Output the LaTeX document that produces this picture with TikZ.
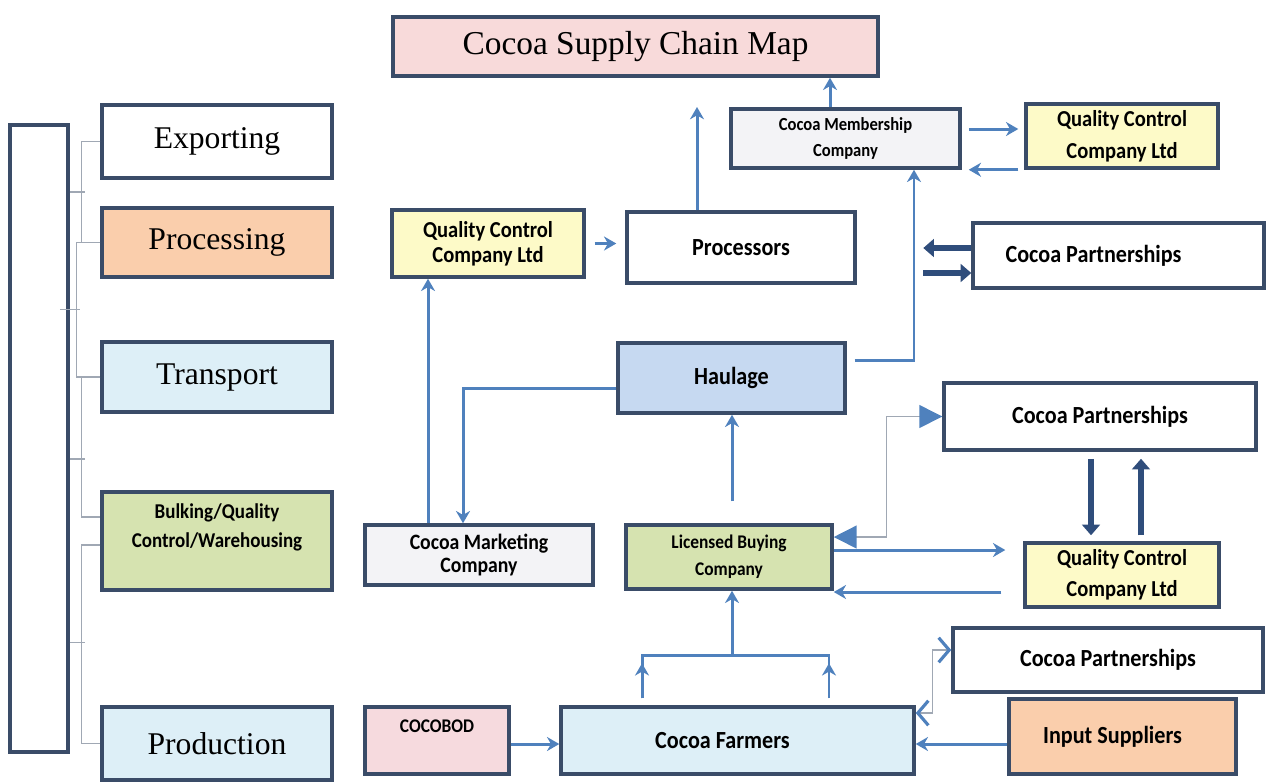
\documentclass[tikz,border=0pt]{standalone}
\usepackage{fontspec}
\setmainfont{Liberation Serif}
\newfontfamily\lblfont{Carlito}[FakeStretch=0.9]
\usetikzlibrary{arrows.meta,calc}

\definecolor{boxline}{RGB}{58,76,104}
\definecolor{arrowblue}{RGB}{79,129,189}
\definecolor{heavyblue}{RGB}{47,77,123}
\definecolor{treegray}{RGB}{160,168,180}
\definecolor{titlepink}{RGB}{248,218,218}
\definecolor{peach}{RGB}{250,206,172}
\definecolor{paleblue}{RGB}{221,239,247}
\definecolor{palegreen}{RGB}{214,227,176}
\definecolor{paleyellow}{RGB}{253,250,200}
\definecolor{haulblue}{RGB}{198,217,241}
\definecolor{palegray}{RGB}{243,243,246}
\definecolor{cocopink}{RGB}{246,218,222}

\tikzset{
  box/.style={draw=boxline,line width=2pt,inner sep=0pt,align=center},
  serif/.style={font=\fontsize{18}{21}\selectfont},
  lbl/.style={font=\lblfont\bfseries\fontsize{14}{16}\selectfont},
  flow/.style={draw=arrowblue,line width=1.7pt,-{Stealth[length=7pt,width=8pt]}},
  link/.style={draw=arrowblue,line width=1.7pt},
  heavy/.style={draw=heavyblue,line width=3.4pt,-{Triangle[length=6pt,width=10pt]}},
  tree/.style={draw=treegray,line width=0.7pt},
  graylink/.style={draw=treegray,line width=0.8pt,
    {Triangle[length=13pt,width=13pt,color=arrowblue]}-{Triangle[length=13pt,width=13pt,color=arrowblue]}},
  chevlink/.style={draw=treegray,line width=0.8pt,
    {Straight Barb[length=6pt,width=14pt,color=arrowblue,line width=1.8pt]}-{Straight Barb[length=6pt,width=14pt,color=arrowblue,line width=1.8pt]}}
}

\begin{document}
\begin{tikzpicture}[x=0.02cm,y=-0.02cm]
  \useasboundingbox (0,0) rectangle (1266,782);

  % left column
  \node[box,minimum width=1.16cm,minimum height=12.54cm] (frame) at (39,438.5) {};
  \node[box,serif,minimum width=4.6cm,minimum height=1.46cm] (exp) at (217,141.5) {Exporting};
  \node[box,serif,fill=peach,minimum width=4.6cm,minimum height=1.38cm] (proc) at (217,242.5) {Processing};
  \node[box,serif,fill=paleblue,minimum width=4.6cm,minimum height=1.4cm] (trans) at (217,377) {Transport};
  \node[box,lbl,font=\lblfont\bfseries\fontsize{12}{16.5}\selectfont,fill=palegreen,minimum width=4.6cm,minimum height=1.96cm] (bulk) at (217,541) {Bulking/Quality\\Control/Warehousing\\[0.02cm]};
  \node[box,serif,fill=paleblue,minimum width=4.6cm,minimum height=1.46cm] (prod) at (217,743.5) {Production};

  \coordinate (jA) at ($(exp.west)!0.5!(proc.west)$);
  \coordinate (jB) at ($(proc.west)!0.5!(trans.west)$);
  \coordinate (jC) at ($(trans.west)!0.5!(bulk.west)$);
  \coordinate (jD) at ($(bulk.west)!0.5!(prod.west)$);
  \draw[tree] (exp.west) -- ++(-19,0) |- (proc.west);
  \draw[tree] (proc.west) -- ++(-24,0) |- (trans.west);
  \draw[tree] (trans.west) -- ++(-19,0) |- ([yshift=0.48cm]bulk.west);
  \draw[tree] ([yshift=-0.08cm]bulk.west) -- ++(-19,0) |- (prod.west);
  \draw[tree] (frame.east |- jA) -- ++(15,0);
  \draw[tree] ([xshift=-0.2cm]frame.east |- jB) -- ++(20,0);
  \draw[tree] (frame.east |- jC) -- ++(15,0);
  \draw[tree] (frame.east |- jD) -- ++(15,0);

  % top
  \node[box,fill=titlepink,minimum width=9.7cm,minimum height=1.18cm,font=\fontsize{19}{22}\selectfont] (title) at (635.5,46.5) {Cocoa Supply Chain Map};
  \node[box,fill=palegray,minimum width=4.58cm,minimum height=1.18cm,font=\lblfont\bfseries\fontsize{10.5}{14.5}\selectfont] (memb) at (845.5,138.5) {Cocoa Membership\\Company};
  \node[box,fill=paleyellow,minimum width=3.84cm,minimum height=1.28cm,font=\lblfont\bfseries\fontsize{13}{18}\selectfont] (qcB) at (1122,136) {Quality Control\\Company Ltd};
  \node[box,fill=paleyellow,minimum width=3.84cm,minimum height=1.34cm,font=\lblfont\bfseries\fontsize{13}{14}\selectfont] (qcA) at (488,243.5) {Quality Control\\Company Ltd};
  \node[box,lbl,minimum width=4.56cm,minimum height=1.42cm] (procs) at (741,247.5) {Processors};
  \node[box,lbl,minimum width=5.82cm,minimum height=1.3cm] (partA) at (1118.5,255.5) {Cocoa Partnerships\hspace*{1cm}};
  \coordinate (procsup) at (697,107);

  % middle
  \node[box,lbl,fill=haulblue,minimum width=4.54cm,minimum height=1.4cm] (haul) at (731.5,378) {Haulage};
  \node[box,lbl,minimum width=6.24cm,minimum height=1.34cm] (partB) at (1100,416.5) {Cocoa Partnerships};
  \node[box,fill=palegray,minimum width=4.56cm,minimum height=1.2cm,font=\lblfont\bfseries\fontsize{12.5}{13.5}\selectfont] (mkt) at (479,555) {Cocoa Marketing\\Company};
  \node[box,fill=palegreen,minimum width=4.12cm,minimum height=1.28cm,font=\lblfont\bfseries\fontsize{11}{15.5}\selectfont] (lbc) at (729,557) {Licensed Buying\\Company};
  \node[box,fill=paleyellow,minimum width=3.88cm,minimum height=1.28cm,font=\lblfont\bfseries\fontsize{13}{17.5}\selectfont] (qcC) at (1122,575) {Quality Control\\Company Ltd};

  % bottom
  \node[box,lbl,minimum width=6.2cm,minimum height=1.28cm] (partC) at (1108,660) {Cocoa Partnerships};
  \node[box,fill=cocopink,minimum width=2.88cm,minimum height=1.34cm,font=\lblfont\bfseries\fontsize{11}{13}\selectfont] (cocobod) at (437,740.5) {COCOBOD\\[0.1cm]};
  \node[box,lbl,fill=paleblue,minimum width=7.06cm,minimum height=1.34cm] (farm) at (737.5,740.5) {Cocoa Farmers\hspace*{0.6cm}};
  \node[box,lbl,fill=peach,minimum width=4.54cm,minimum height=1.5cm] (input) at (1122.5,736.5) {Input Suppliers\hspace*{0.4cm}};

  % connectors
  \draw[flow] ([xshift=-0.31cm]memb.north) -- ([xshift=-0.31cm]memb.north |- title.south);
  \draw[flow] (procs.north -| procsup) -- (procsup);
  \draw[flow] ([xshift=0.18cm]qcA.east) -- ([xshift=-0.18cm]qcA.east -| procs.west);
  \draw[flow] ([xshift=0.14cm,yshift=0.19cm]memb.east) -- ([xshift=-0.12cm,yshift=0.19cm]memb.east -| qcB.west);
  \draw[flow] ([xshift=-0.12cm]qcB.south west) -- ([xshift=0.14cm]qcB.south west -| memb.east);
  \draw[flow] ([xshift=0.16cm,yshift=0.36cm]haul.east) -| ([xshift=1.37cm]memb.south);
  \draw[heavy] ([yshift=0.15cm]partA.west) -- ++(-48,0);
  \draw[heavy] ([yshift=-0.35cm]partA.west) ++(-48,0) -- ([yshift=-0.35cm]partA.west);

  \draw[flow] ([yshift=-0.2cm]haul.west) -| ([xshift=-0.32cm]mkt.north);
  \draw[flow] ([xshift=-1.02cm]mkt.north) -- ([xshift=-1.02cm]mkt.north |- qcA.south);
  \draw[flow] ([xshift=0.06cm,yshift=0.44cm]lbc.north) -- ([xshift=0.06cm]lbc.north |- haul.south);
  \draw[graylink] ([yshift=0.4cm]lbc.east) -- ++(53,0) |- (partB.west);
  \draw[flow] ([yshift=0.14cm]lbc.east) -- ([xshift=-0.36cm,yshift=0.14cm]lbc.east -| qcC.west);
  \draw[flow] ([xshift=-0.44cm,yshift=-0.7cm]lbc.east -| qcC.west) -- ([yshift=-0.7cm]lbc.east);
  \draw[heavy] ([xshift=-0.18cm,yshift=-0.14cm]partB.south) -- ([xshift=-0.18cm,yshift=0.12cm]partB.south |- qcC.north);
  \draw[heavy] ([xshift=0.82cm,yshift=0.12cm]partB.south |- qcC.north) -- ([xshift=0.82cm,yshift=-0.14cm]partB.south);

  \draw[link] ([xshift=-1.91cm,yshift=0.14cm]farm.north) |- ([xshift=1.83cm,yshift=1cm]farm.north) -- ([xshift=1.83cm,yshift=0.14cm]farm.north);
  \draw[flow] ([xshift=-1.91cm,yshift=0.14cm]farm.north) -- ([xshift=-1.91cm,yshift=0.84cm]farm.north);
  \draw[flow] ([xshift=1.83cm,yshift=0.14cm]farm.north) -- ([xshift=1.83cm,yshift=0.84cm]farm.north);
  \draw[flow] ([xshift=-0.11cm,yshift=1cm]farm.north) -- ([xshift=-0.11cm]farm.north |- lbc.south);
  \draw[flow] ([yshift=-0.07cm]cocobod.east) -- ([yshift=-0.07cm]cocobod.east -| farm.west);
  \draw[flow] ([yshift=-0.15cm]input.west) -- ([yshift=-0.15cm]input.west -| farm.east);
  \draw[chevlink] ([yshift=0.55cm]farm.east) -- ++(17,0) |- ([yshift=0.2cm]partC.west);
\end{tikzpicture}
\end{document}
